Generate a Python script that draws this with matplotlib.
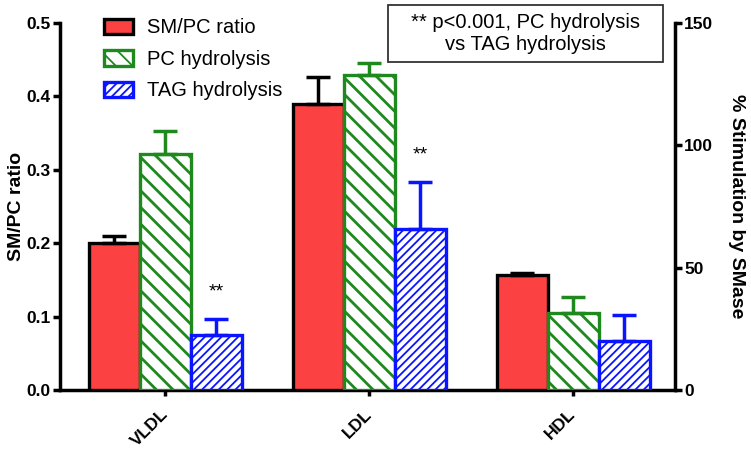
import numpy as np
import matplotlib
matplotlib.use("Agg")
import matplotlib.pyplot as plt
import matplotlib.transforms as mtransforms
from matplotlib.patches import Patch, Rectangle

plt.rcParams['font.family'] = ['Liberation Sans', 'DejaVu Sans']

# data
groups = ['VLDL', 'LDL', 'HDL']
smpc_ratio = [0.200, 0.390, 0.156]
smpc_err = [0.010, 0.037, 0.003]
pc_hydro = [96.3, 128.9, 31.3]
pc_err = [9.5, 4.9, 6.9]
tag_hydro = [22.5, 65.7, 20.2]
tag_err = [6.4, 19.4, 10.5]
star_groups = [0, 1]  # TAG bars flagged with **

x = np.arange(len(groups))
w = 0.25
zeros = np.zeros(len(groups))

fig = plt.figure(figsize=(7.51, 4.5), dpi=100)
ax = fig.add_axes([0.0799, 0.1333, 0.8189, 0.8157])
ax2 = ax.twinx()

ekw = dict(elinewidth=2.5, capthick=2.5, capsize=8.5)

ax.bar(x - w, smpc_ratio, w, color='#fb4141', edgecolor='black', linewidth=2.4,
       yerr=[zeros, smpc_err], error_kw=dict(ecolor='black', **ekw), zorder=3)

plt.rcParams['hatch.linewidth'] = 2.0
ax2.bar(x, pc_hydro, w, color='white', edgecolor='#1e8a1e', hatch='\\\\', linewidth=2.4,
        yerr=[zeros, pc_err], error_kw=dict(ecolor='#1e8a1e', **ekw), zorder=3)
plt.rcParams['hatch.linewidth'] = 1.3
ax2.bar(x + w, tag_hydro, w, color='white', edgecolor='#0a14ff', hatch='////', linewidth=2.4,
        yerr=[zeros, tag_err], error_kw=dict(ecolor='#0a14ff', **ekw), zorder=3)

for i in star_groups:
    ax2.text(x[i] + w, tag_hydro[i] + tag_err[i] + 11, '**', ha='center', va='center',
             fontsize=14)

ax.set_xlim(-0.515, 2.5)
ax.set_ylim(0, 0.5)
ax2.set_ylim(0, 150)
ax.set_yticks([0.0, 0.1, 0.2, 0.3, 0.4, 0.5])
ax.set_yticklabels(['0.0', '0.1', '0.2', '0.3', '0.4', '0.5'])
ax2.set_yticks([0, 50, 100, 150])
ax.set_xticks(x)
ax.set_xticklabels(groups, rotation=45, ha='right', rotation_mode='anchor')

for a in (ax, ax2):
    a.spines['top'].set_visible(False)
    for s in a.spines.values():
        s.set_linewidth(2.5)
    a.tick_params(width=2.5, length=5, labelsize=12.5, pad=1.5)
    for lab in a.get_xticklabels() + a.get_yticklabels():
        lab.set_fontweight('bold')
ax2.spines['left'].set_visible(False)
ax.spines['right'].set_visible(False)
ax2.spines['bottom'].set_visible(False)
ax.tick_params(axis='x', length=4.5, labelsize=12.5, pad=7.5)
shift = mtransforms.ScaledTranslation(-5 / 100, 0, fig.dpi_scale_trans)
for lab in ax.get_xticklabels():
    lab.set_transform(lab.get_transform() + shift)

ax.set_ylabel('SM/PC ratio', fontsize=14, fontweight='bold', va='center')
ax.yaxis.set_label_coords(-0.071, 0.5)
ax2.set_ylabel('% Stimulation by SMase', fontsize=14, fontweight='bold',
               rotation=270, va='center')
ax2.yaxis.set_label_coords(1.1, 0.5)

handles = [
    Patch(facecolor='#fb4141', edgecolor='black', linewidth=2.4),
    Patch(facecolor='white', edgecolor='#1e8a1e', hatch='\\\\', linewidth=2.4),
    Patch(facecolor='white', edgecolor='#0a14ff', hatch='////', linewidth=2.4),
]
ax2.legend(handles, ['SM/PC ratio', 'PC hydrolysis', 'TAG hydrolysis'],
           loc='upper left', bbox_to_anchor=(0.042, 1.062), frameon=False,
           fontsize=14.5, handlelength=1.45, handleheight=0.8, labelspacing=0.62,
           handletextpad=0.7)

# note box
fig.patches.append(Rectangle((0.5166, 0.8622), 0.3662, 0.1267, transform=fig.transFigure,
                             facecolor='white', edgecolor='#333333', linewidth=1.3,
                             zorder=5))
fig.text(0.6997, 0.9256, '** p<0.001, PC hydrolysis\nvs TAG hydrolysis', ha='center',
         va='center', fontsize=14.5, linespacing=1.25, zorder=6)

fig.savefig('out.png', dpi=100)
